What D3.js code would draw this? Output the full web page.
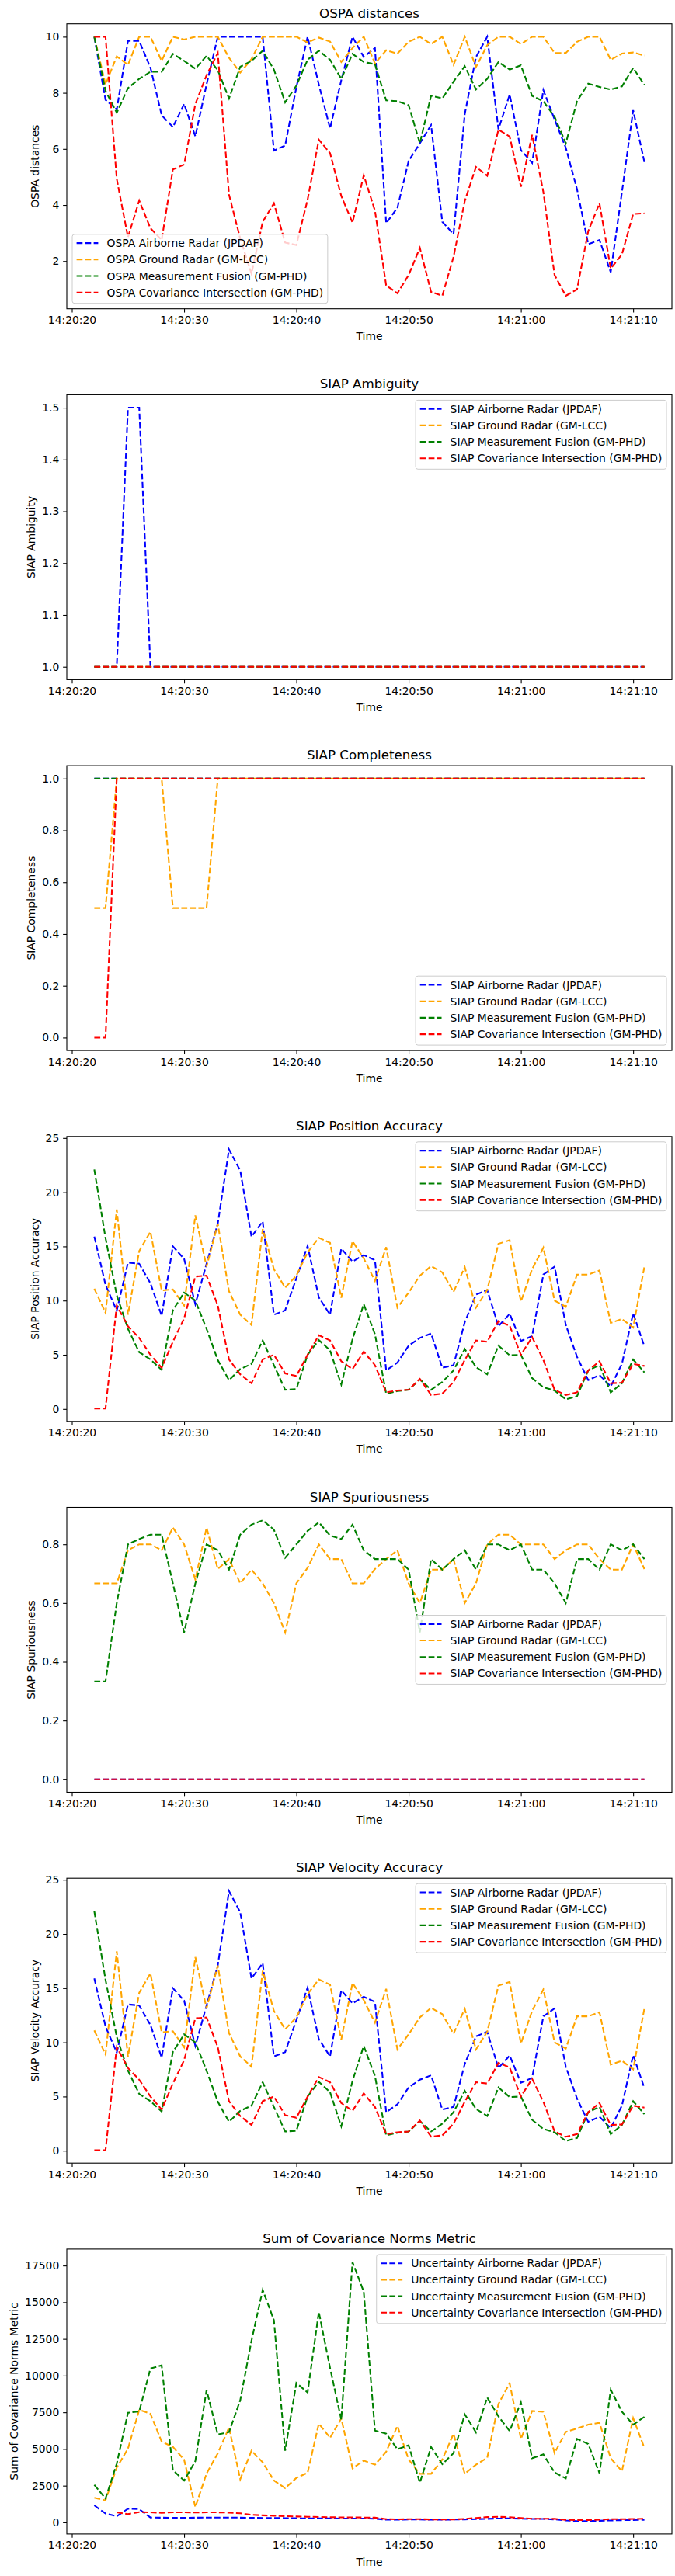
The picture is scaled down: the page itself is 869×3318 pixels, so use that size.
<!DOCTYPE html>
<html>
<head>
<meta charset="utf-8">
<script src="https://cdn.jsdelivr.net/npm/d3@7"></script>
<style>
  body { margin: 0; background: #fff; }
  svg { display: block; font-family: "DejaVu Sans", sans-serif; }
</style>
</head>
<body>
<div id="chart"></div>
<script>
// sample times (one per second)
const times = ["14:20:22","14:20:23","14:20:24","14:20:25","14:20:26","14:20:27","14:20:28","14:20:29","14:20:30","14:20:31",
  "14:20:32","14:20:33","14:20:34","14:20:35","14:20:36","14:20:37","14:20:38","14:20:39","14:20:40","14:20:41",
  "14:20:42","14:20:43","14:20:44","14:20:45","14:20:46","14:20:47","14:20:48","14:20:49","14:20:50","14:20:51",
  "14:20:52","14:20:53","14:20:54","14:20:55","14:20:56","14:20:57","14:20:58","14:20:59","14:21:00","14:21:01",
  "14:21:02","14:21:03","14:21:04","14:21:05","14:21:06","14:21:07","14:21:08","14:21:09","14:21:10","14:21:11"];
const xTickTimes = ["14:20:20","14:20:30","14:20:40","14:20:50","14:21:00","14:21:10"];

const systems = ["Airborne Radar (JPDAF)", "Ground Radar (GM-LCC)", "Measurement Fusion (GM-PHD)", "Covariance Intersection (GM-PHD)"];
const colors = ["blue", "orange", "green", "red"];

// OSPA distances
const ospaAirborne = [10,7.75,7.4,9.85,9.85,8.9,7.2,6.78,7.6,6.45,8.3,10,10,10,10,10,5.94,6.12,8.2,10,8.3,6.73,8.45,10,9.28,9.6,3.35,3.9,5.57,6.2,6.85,3.4,2.96,7.24,9.28,10,6.7,7.94,5.96,5.5,8.1,7.05,6.04,4.56,2.6,2.75,1.6,4.46,7.38,5.53];
const ospaGround = [10,8.3,9.3,9.0,10,10,9.14,10,9.9,10,10,10,9.25,8.72,9.2,10,10,10,10,9.8,9.97,9.83,9.1,9.6,10,9.05,9.52,9.4,9.82,10,9.74,10,9.0,10,8.92,9.7,10,10,9.74,10,10,9.42,9.42,9.82,10,10,9.18,9.4,9.44,9.33];
const ospaFusion = [10,8.07,7.29,8.17,8.5,8.75,8.75,9.39,9.14,8.86,9.32,8.81,7.8,8.93,9.14,9.5,8.83,7.66,8.26,9.18,9.5,9.18,8.5,9.39,9.1,9.02,7.73,7.7,7.56,6.2,7.9,7.8,8.4,8.95,8.12,8.5,9.1,8.83,8.98,7.89,7.7,7.15,6.2,7.7,8.33,8.21,8.12,8.23,8.89,8.28];
const ospaCI = [10,10,4.93,2.85,4.16,3.17,2.75,5.27,5.44,7.6,8.63,9.42,4.37,2.8,1.55,3.4,4.06,2.66,2.57,4.19,6.33,5.85,4.32,3.37,5.06,3.8,1.13,0.85,1.5,2.47,0.9,0.76,2.15,4.14,5.36,5.04,6.69,6.44,4.65,6.5,4.46,1.5,0.76,0.99,3.07,4.06,1.73,2.24,3.68,3.7];

// SIAP ambiguity
const ambAirborne = [1,1,1,1.5,1.5,1,1,1,1,1,1,1,1,1,1,1,1,1,1,1,1,1,1,1,1,1,1,1,1,1,1,1,1,1,1,1,1,1,1,1,1,1,1,1,1,1,1,1,1,1];
const ambGround = [1,1,1,1,1,1,1,1,1,1,1,1,1,1,1,1,1,1,1,1,1,1,1,1,1,1,1,1,1,1,1,1,1,1,1,1,1,1,1,1,1,1,1,1,1,1,1,1,1,1];
const ambFusion = [1,1,1,1,1,1,1,1,1,1,1,1,1,1,1,1,1,1,1,1,1,1,1,1,1,1,1,1,1,1,1,1,1,1,1,1,1,1,1,1,1,1,1,1,1,1,1,1,1,1];
const ambCI = [1,1,1,1,1,1,1,1,1,1,1,1,1,1,1,1,1,1,1,1,1,1,1,1,1,1,1,1,1,1,1,1,1,1,1,1,1,1,1,1,1,1,1,1,1,1,1,1,1,1];

// SIAP completeness
const compAirborne = [1,1,1,1,1,1,1,1,1,1,1,1,1,1,1,1,1,1,1,1,1,1,1,1,1,1,1,1,1,1,1,1,1,1,1,1,1,1,1,1,1,1,1,1,1,1,1,1,1,1];
const compGround = [0.5,0.5,1,1,1,1,1,0.5,0.5,0.5,0.5,1,1,1,1,1,1,1,1,1,1,1,1,1,1,1,1,1,1,1,1,1,1,1,1,1,1,1,1,1,1,1,1,1,1,1,1,1,1,1];
const compFusion = [1,1,1,1,1,1,1,1,1,1,1,1,1,1,1,1,1,1,1,1,1,1,1,1,1,1,1,1,1,1,1,1,1,1,1,1,1,1,1,1,1,1,1,1,1,1,1,1,1,1];
const compCI = [0,0,1,1,1,1,1,1,1,1,1,1,1,1,1,1,1,1,1,1,1,1,1,1,1,1,1,1,1,1,1,1,1,1,1,1,1,1,1,1,1,1,1,1,1,1,1,1,1,1];

// SIAP position accuracy
const posAirborne = [15.9,11.46,9.07,13.5,13.4,11.6,8.6,15.0,13.85,9.67,13.4,17.1,23.95,22.0,15.9,17.3,8.7,9.1,12.06,15.05,10.3,8.7,14.8,13.6,14.2,13.73,3.56,4.28,5.84,6.55,6.96,3.8,4.04,8.0,10.55,10.98,7.63,8.78,6.27,6.72,12.4,13.13,7.75,4.81,2.66,3.13,2.08,4.16,8.83,5.77];
const posGround = [11.1,8.88,18.4,8.7,14.57,16.36,10.93,11.03,9.55,17.87,13.13,17.08,10.86,8.7,7.75,16.6,12.9,11.2,12.3,14.45,15.8,15.33,10.26,15.48,13.9,11.82,14.93,9.35,10.74,12.3,13.18,12.6,10.8,13.09,9.35,10.98,15.24,15.57,9.9,12.9,14.88,10.0,9.43,12.4,12.4,12.78,7.94,8.3,7.51,13.13];
const posFusion = [22.1,15.77,10.5,7.39,5.24,4.57,3.61,9.11,10.74,10.0,7.39,4.52,2.66,3.68,4.16,6.32,4.04,1.77,1.84,5.0,6.36,5.4,2.25,6.44,9.67,6.9,1.41,1.65,1.77,2.73,1.77,2.49,3.56,5.53,3.85,3.2,5.84,4.95,5.0,2.85,2.0,1.7,0.89,1.17,3.56,4.04,1.53,2.37,4.57,3.37];
const posCI = [0.05,0.05,9.55,7.63,6.55,5.0,3.8,6.2,8.35,12.22,12.3,9.55,4.57,3.2,2.37,4.57,5.0,3.28,3.04,5.0,6.8,6.32,4.4,3.68,5.29,4.04,1.53,1.7,1.77,2.78,1.29,1.41,2.49,4.52,6.32,6.2,8.11,7.68,5.0,6.63,4.52,1.77,1.29,1.53,3.56,4.4,2.37,2.42,4.16,3.97];

// SIAP spuriousness
const spurAirborne = [0,0,0,0,0,0,0,0,0,0,0,0,0,0,0,0,0,0,0,0,0,0,0,0,0,0,0,0,0,0,0,0,0,0,0,0,0,0,0,0,0,0,0,0,0,0,0,0,0,0];
const spurGround = [0.667,0.667,0.667,0.78,0.8,0.8,0.78,0.857,0.8,0.68,0.857,0.716,0.75,0.667,0.714,0.667,0.6,0.5,0.667,0.72,0.8,0.75,0.75,0.667,0.667,0.716,0.75,0.78,0.667,0.6,0.714,0.714,0.75,0.6,0.667,0.8,0.833,0.833,0.8,0.8,0.8,0.75,0.78,0.8,0.8,0.75,0.714,0.714,0.8,0.716];
const spurFusion = [0.333,0.333,0.6,0.8,0.818,0.833,0.833,0.667,0.5,0.667,0.8,0.78,0.714,0.833,0.867,0.882,0.85,0.754,0.8,0.846,0.875,0.83,0.818,0.867,0.78,0.75,0.75,0.75,0.714,0.5,0.75,0.714,0.75,0.78,0.714,0.8,0.8,0.78,0.8,0.714,0.714,0.667,0.6,0.75,0.75,0.714,0.8,0.78,0.8,0.75];
const spurCI = [0,0,0,0,0,0,0,0,0,0,0,0,0,0,0,0,0,0,0,0,0,0,0,0,0,0,0,0,0,0,0,0,0,0,0,0,0,0,0,0,0,0,0,0,0,0,0,0,0,0];

// SIAP velocity accuracy (same values as position in the source)
const velAirborne = posAirborne.slice();
const velGround = posGround.slice();
const velFusion = posFusion.slice();
const velCI = posCI.slice();

// sum of covariance norms
const covAirborne = [1160,600,420,930,900,330,320,310,310,320,330,330,330,320,310,300,300,290,280,270,270,270,260,260,260,250,180,180,190,190,180,180,190,200,220,240,260,270,250,230,230,200,130,90,90,110,130,150,160,170];
const covGround = [1675,1500,3735,5020,7665,7400,5500,5145,4265,1040,3330,4705,6465,2940,4880,4090,2855,2325,3030,3380,6730,5760,7085,3680,4210,3930,4810,6570,4280,3310,3310,4280,6040,3310,3930,4400,8070,9480,5690,7590,7540,4720,6165,6395,6660,6780,4370,3490,7100,5075];
const covFusion = [2555,1620,4000,7470,7560,10480,10700,3560,2850,4175,9020,5990,6150,8320,12370,15840,13780,4880,9500,8845,14340,10520,6995,17740,15720,6255,6045,4990,5250,2700,5130,3965,4720,7365,6130,8510,7225,6220,8190,4370,4635,3400,2995,5690,5340,3350,9040,7540,6660,7190];
const covCI = [null,null,680,560,700,680,650,680,680,670,680,680,660,620,520,480,450,420,400,380,370,350,340,340,330,320,220,210,220,220,200,190,200,240,300,360,380,350,300,250,250,240,170,150,160,180,220,220,230,250];

// y tick values per panel
const ospaTicks = [2, 4, 6, 8, 10];
const ambTicks = [1.0, 1.1, 1.2, 1.3, 1.4, 1.5];
const compTicks = [0.0, 0.2, 0.4, 0.6, 0.8, 1.0];
const accTicks = [0, 5, 10, 15, 20, 25];
const spurTicks = [0.0, 0.2, 0.4, 0.6, 0.8];
const covTicks = [0, 2500, 5000, 7500, 10000, 12500, 15000, 17500];

const panels = [
  {title: "OSPA distances", ylabel: "OSPA distances", prefix: "OSPA", series: [ospaAirborne, ospaGround, ospaFusion, ospaCI], ticks: ospaTicks, fmt: d3.format("d"), legend: "lower left"},
  {title: "SIAP Ambiguity", ylabel: "SIAP Ambiguity", prefix: "SIAP", series: [ambAirborne, ambGround, ambFusion, ambCI], ticks: ambTicks, fmt: d3.format(".1f"), legend: "upper right"},
  {title: "SIAP Completeness", ylabel: "SIAP Completeness", prefix: "SIAP", series: [compAirborne, compGround, compFusion, compCI], ticks: compTicks, fmt: d3.format(".1f"), legend: "lower right"},
  {title: "SIAP Position Accuracy", ylabel: "SIAP Position Accuracy", prefix: "SIAP", series: [posAirborne, posGround, posFusion, posCI], ticks: accTicks, fmt: d3.format("d"), legend: "upper right"},
  {title: "SIAP Spuriousness", ylabel: "SIAP Spuriousness", prefix: "SIAP", series: [spurAirborne, spurGround, spurFusion, spurCI], ticks: spurTicks, fmt: d3.format(".1f"), legend: "center right"},
  {title: "SIAP Velocity Accuracy", ylabel: "SIAP Velocity Accuracy", prefix: "SIAP", series: [velAirborne, velGround, velFusion, velCI], ticks: accTicks, fmt: d3.format("d"), legend: "upper right"},
  {title: "Sum of Covariance Norms Metric", ylabel: "Sum of Covariance Norms Metric", prefix: "Uncertainty", series: [covAirborne, covGround, covFusion, covCI], ticks: covTicks, fmt: d3.format("d"), legend: "upper right"}
];

// layout (pixels, matplotlib-like at 100 dpi)
const W = 869, H = 3318;
const left = 86, plotW = 779, plotH = 367;
const firstTop = 30.7, step = 477.7;
const fs = 13.9, titleFs = 16.7;
const tickLen = 4.86, tickPad = 4.86;
const lineW = 2.08, dash = "7.7,3.3";

const parse = d3.timeParse("%H:%M:%S");
const fmtTime = d3.timeFormat("%H:%M:%S");
const dates = times.map(parse);
const xTicks = xTickTimes.map(parse);

const t0 = dates[0], t1 = dates[dates.length - 1];
const pad = (t1 - t0) * 0.05;
const x = d3.scaleTime()
  .domain([new Date(+t0 - pad), new Date(+t1 + pad)])
  .range([left, left + plotW]);

const svg = d3.select("#chart").append("svg")
  .attr("width", W)
  .attr("height", H);

svg.append("rect").attr("width", W).attr("height", H).attr("fill", "#fff");

panels.forEach(function(p, k) {
  const top = firstTop + k * step;
  const bottom = top + plotH;
  const g = svg.append("g");

  // y scale with 5% margins, like matplotlib autoscale
  const all = p.series.flat().filter(v => v != null);
  const lo = d3.min(all), hi = d3.max(all);
  const m = (hi - lo) * 0.05;
  const y = d3.scaleLinear().domain([lo - m, hi + m]).range([bottom, top]);

  // lines
  const line = d3.line()
    .defined(d => d.v != null)
    .x(d => x(d.t))
    .y(d => y(d.v));

  p.series.forEach(function(vals, s) {
    const pts = vals.map((v, i) => ({t: dates[i], v: v}));
    g.append("path")
      .datum(pts)
      .attr("fill", "none")
      .attr("stroke", colors[s])
      .attr("stroke-width", lineW)
      .attr("stroke-dasharray", dash)
      .attr("d", line);
  });

  // x axis
  const xAxis = g.append("g")
    .attr("transform", "translate(0," + bottom + ")")
    .call(d3.axisBottom(x).tickValues(xTicks).tickFormat(fmtTime)
      .tickSize(tickLen).tickPadding(tickPad).tickSizeOuter(0));
  xAxis.select(".domain").remove();

  // y axis
  const yAxis = g.append("g")
    .attr("transform", "translate(" + left + ",0)")
    .call(d3.axisLeft(y).tickValues(p.ticks).tickFormat(p.fmt)
      .tickSize(tickLen).tickPadding(tickPad).tickSizeOuter(0));
  yAxis.select(".domain").remove();

  [xAxis, yAxis].forEach(function(a) {
    a.attr("font-family", "DejaVu Sans").attr("font-size", fs);
    a.selectAll(".tick line").attr("stroke", "#000").attr("stroke-width", 1.1);
    a.selectAll(".tick text").attr("fill", "#000");
  });

  // frame
  g.append("rect")
    .attr("x", left).attr("y", top)
    .attr("width", plotW).attr("height", plotH)
    .attr("fill", "none")
    .attr("stroke", "#000")
    .attr("stroke-width", 1.1);

  // title
  g.append("text")
    .attr("x", left + plotW / 2)
    .attr("y", top - 8)
    .attr("text-anchor", "middle")
    .attr("font-size", titleFs)
    .text(p.title);

  // x label
  g.append("text")
    .attr("x", left + plotW / 2)
    .attr("y", bottom + 40.6)
    .attr("text-anchor", "middle")
    .attr("font-size", fs)
    .text("Time");

  // y label, placed left of the widest tick label
  let maxW = 0;
  yAxis.selectAll(".tick text").each(function() {
    maxW = Math.max(maxW, this.getComputedTextLength());
  });
  const yl = left - tickLen - tickPad - maxW - 5.6 - 3.3;
  g.append("text")
    .attr("transform", "translate(" + yl + "," + (top + plotH / 2) + ") rotate(-90)")
    .attr("text-anchor", "middle")
    .attr("font-size", fs)
    .text(p.ylabel);

  // legend
  const labels = systems.map(s => p.prefix + " " + s);
  const lg = g.append("g");
  const box = lg.append("rect");
  let textW = 0;
  const rowH = 21.2, padIn = 5.6, hLen = 27.8, hPad = 11.1;
  const boxH = 11.3 + rowH * 3 + 14;
  const texts = labels.map(function(lab, i) {
    const t = lg.append("text")
      .attr("font-size", fs)
      .text(lab);
    textW = Math.max(textW, t.node().getComputedTextLength());
    return t;
  });
  const boxW = padIn + hLen + hPad + textW + padIn;
  let bx, by;
  if (p.legend === "lower left") { bx = left + 7; by = bottom - 7 - boxH; }
  else if (p.legend === "lower right") { bx = left + plotW - 7 - boxW; by = bottom - 7 - boxH; }
  else if (p.legend === "center right") { bx = left + plotW - 7 - boxW; by = top + plotH / 2 - boxH / 2; }
  else { bx = left + plotW - 7 - boxW; by = top + 7; }

  box.attr("x", bx).attr("y", by)
    .attr("width", boxW).attr("height", boxH)
    .attr("rx", 3)
    .attr("fill", "#fff").attr("fill-opacity", 0.8)
    .attr("stroke", "#cccccc").attr("stroke-width", 1);

  texts.forEach(function(t, i) {
    const cy = by + 11.3 + i * rowH;
    lg.append("line")
      .attr("x1", bx + padIn).attr("x2", bx + padIn + hLen)
      .attr("y1", cy).attr("y2", cy)
      .attr("stroke", colors[i])
      .attr("stroke-width", lineW)
      .attr("stroke-dasharray", dash);
    t.attr("x", bx + padIn + hLen + hPad).attr("y", cy + 5);
  });
});
</script>
</body>
</html>
